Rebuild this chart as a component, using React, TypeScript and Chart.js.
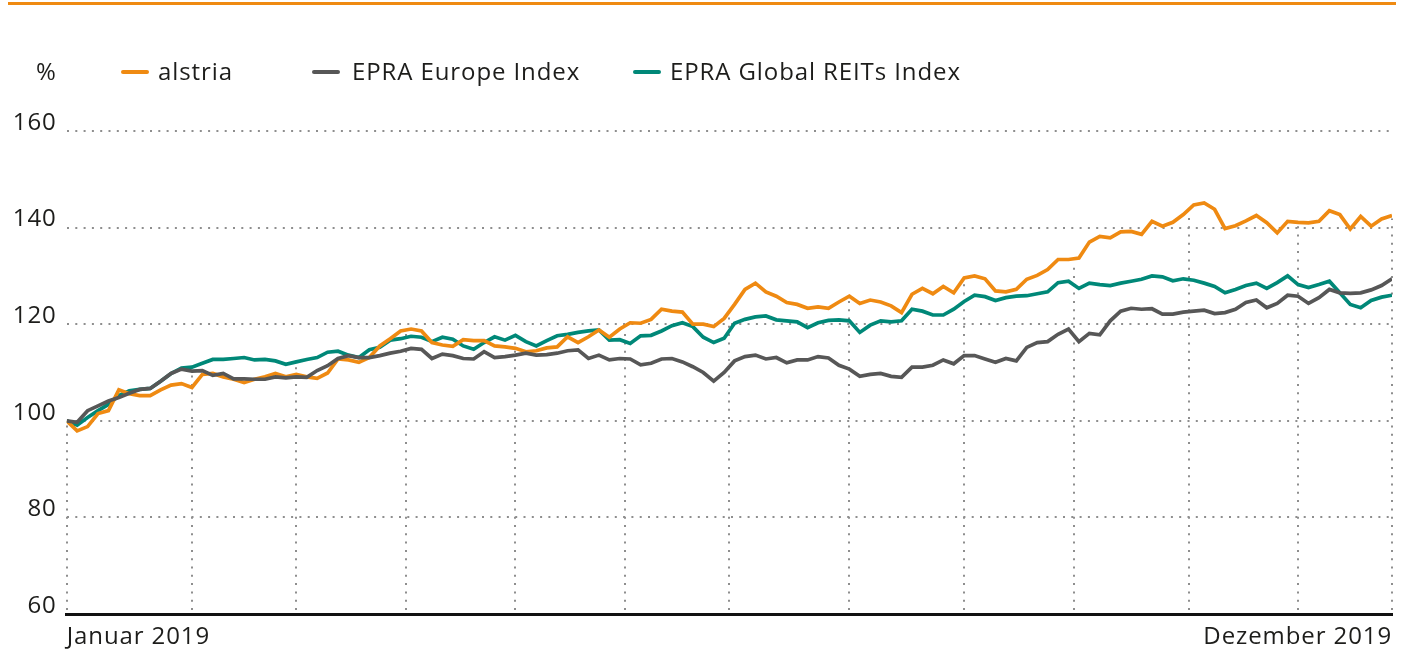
import React, { useEffect, useRef } from "react";
import { Chart, registerables } from "chart.js";

Chart.register(...registerables);

// ---------- data ----------
// trading-day index (every second trading day of 2019)
const tradingDays: number[] = Array.from({ length: 128 }, (_, k) => k * 2);

const alstria: number[] = [
  100.0, 97.9, 98.8, 101.5, 102.1, 106.4, 105.6, 105.2, 105.2, 106.4,
  107.4, 107.7, 106.9, 109.6, 109.8, 109.1, 108.6, 107.9, 108.6, 109.1,
  109.8, 109.1, 109.6, 109.1, 108.8, 109.9, 112.8, 112.6, 112.1, 113.1,
  115.5, 117.0, 118.6, 119.0, 118.6, 116.2, 115.7, 115.4, 116.8, 116.6,
  116.6, 115.5, 115.3, 115.0, 114.3, 114.5, 115.1, 115.3, 117.4, 116.2,
  117.4, 118.8, 117.3, 119.0, 120.3, 120.2, 121.0, 123.1, 122.7, 122.5,
  120.0, 120.0, 119.5, 121.2, 124.1, 127.2, 128.5, 126.7, 125.8, 124.5,
  124.1, 123.3, 123.6, 123.3, 124.6, 125.8, 124.3, 125.0, 124.6, 123.8,
  122.4, 126.2, 127.4, 126.3, 127.8, 126.5, 129.6, 130.0, 129.4, 126.9,
  126.7, 127.2, 129.3, 130.1, 131.3, 133.4, 133.4, 133.7, 137.0, 138.2,
  137.9, 139.1, 139.2, 138.6, 141.3, 140.3, 141.1, 142.7, 144.7, 145.1,
  143.8, 139.8, 140.4, 141.4, 142.5, 141.0, 138.9, 141.3, 141.1, 141.0,
  141.3, 143.5, 142.7, 139.7, 142.3, 140.3, 141.8, 142.5,
];

const epraEurope: number[] = [
  100.0, 99.7, 102.1, 103.1, 104.1, 104.8, 105.7, 106.5, 106.7, 108.2,
  109.8, 110.7, 110.3, 110.4, 109.4, 109.8, 108.7, 108.7, 108.6, 108.6,
  109.1, 108.9, 109.1, 109.0, 110.4, 111.4, 112.9, 113.5, 113.1, 113.1,
  113.5, 114.0, 114.4, 115.0, 114.8, 112.9, 113.8, 113.5, 112.9, 112.8,
  114.3, 113.1, 113.3, 113.6, 114.0, 113.6, 113.7, 114.0, 114.5, 114.7,
  112.9, 113.6, 112.6, 112.9, 112.8, 111.6, 111.9, 112.8, 112.9, 112.2,
  111.2, 110.0, 108.2, 110.0, 112.4, 113.3, 113.6, 112.8, 113.1, 112.0,
  112.6, 112.6, 113.3, 113.0, 111.5, 110.7, 109.2, 109.6, 109.8, 109.2,
  109.0, 111.1, 111.1, 111.5, 112.6, 111.8, 113.5, 113.5, 112.8, 112.1,
  112.9, 112.4, 115.2, 116.2, 116.4, 117.9, 119.0, 116.4, 118.1, 117.8,
  120.7, 122.7, 123.3, 123.1, 123.2, 122.1, 122.1, 122.5, 122.7, 122.9,
  122.2, 122.4, 123.1, 124.5, 125.0, 123.4, 124.3, 126.0, 125.8, 124.3,
  125.5, 127.2, 126.5, 126.4, 126.5, 127.1, 128.0, 129.4,
];

const epraGlobal: number[] = [
  100.0, 99.1, 100.7, 102.1, 103.4, 105.2, 106.2, 106.5, 106.7, 108.2,
  109.8, 110.9, 111.1, 111.9, 112.7, 112.7, 112.9, 113.1, 112.6, 112.7,
  112.4, 111.7, 112.2, 112.7, 113.1, 114.2, 114.4, 113.6, 113.1, 114.7,
  115.2, 116.7, 117.0, 117.5, 117.3, 116.4, 117.3, 116.9, 115.5, 114.8,
  116.2, 117.4, 116.7, 117.7, 116.4, 115.5, 116.6, 117.6, 117.9, 118.3,
  118.6, 118.8, 116.7, 116.8, 116.0, 117.6, 117.7, 118.6, 119.7, 120.3,
  119.5, 117.3, 116.2, 117.1, 120.2, 121.0, 121.5, 121.7, 120.9, 120.7,
  120.5, 119.3, 120.3, 120.8, 120.9, 120.7, 118.3, 119.8, 120.7, 120.5,
  120.7, 123.1, 122.7, 121.9, 121.9, 123.1, 124.7, 126.0, 125.7, 124.9,
  125.5, 125.8, 125.9, 126.3, 126.7, 128.6, 128.9, 127.4, 128.5, 128.2,
  128.0, 128.5, 128.9, 129.3, 130.0, 129.8, 129.0, 129.4, 129.1, 128.5,
  127.8, 126.5, 127.2, 128.0, 128.5, 127.4, 128.6, 130.0, 128.2, 127.6,
  128.2, 128.9, 126.5, 124.1, 123.4, 124.9, 125.6, 126.0,
];

const seriesNames: string[] = ["alstria", "EPRA Europe Index", "EPRA Global REITs Index"];
// first trading day of each month (plus last day of the year)
const monthStarts: number[] = [0, 24, 44, 65, 86, 107, 127, 150, 172, 193, 215, 236, 254];
const xTickValues: number[] = [0, 254];
const xTickLabels: string[] = ["Januar 2019", "Dezember 2019"];
const yTicks: number[] = [60, 80, 100, 120, 140, 160];
const yUnit = "%";

// ---------- styles ----------
const ORANGE = "#ef8a12";
const GRAY = "#575757";
const TEAL = "#008878";
const GRID = "#8e8e8e";
const TEXT = "#1d1d1b";
const FONT = '"Open Sans", "Noto Sans", sans-serif';
const FONT_SIZE = 24;
const SPACING = 0.9;

const seriesValues = [alstria, epraEurope, epraGlobal];
const seriesColors = [ORANGE, GRAY, TEAL];

function valueAt(series: number[], day: number): number {
  const k = day / 2;
  const lo = Math.floor(k);
  const hi = Math.min(Math.ceil(k), series.length - 1);
  const t = k - lo;
  return series[lo] * (1 - t) + series[hi] * t;
}

const letterSpacingPlugin = {
  id: "letterSpacing",
  beforeDraw(chart: any) {
    try {
      chart.ctx.letterSpacing = SPACING + "px";
    } catch (e) {}
  },
};

const monthGridPlugin = {
  id: "monthGrid",
  beforeDatasetsDraw(chart: any) {
    const { ctx, chartArea, scales } = chart;
    const xs = scales.x;
    const ys = scales.y;
    ctx.save();
    ctx.strokeStyle = GRID;
    ctx.lineWidth = 2;
    ctx.setLineDash([2, 6.3]);
    monthStarts.forEach((m) => {
      const top = Math.max(...seriesValues.map((s) => valueAt(s, m)));
      const x = Math.round(xs.getPixelForValue(m));
      const yTop = ys.getPixelForValue(top) + 3;
      ctx.beginPath();
      ctx.moveTo(x, chartArea.bottom - 4);
      ctx.lineTo(x, yTop);
      ctx.stroke();
    });
    ctx.restore();
  },
};

export default function App() {
  const ref = useRef<HTMLCanvasElement>(null);

  useEffect(() => {
    const canvas = ref.current;
    if (!canvas) return;
    const datasets = seriesValues.map((vals, i) => ({
      label: seriesNames[i],
      data: tradingDays.map((d, k) => ({ x: d, y: vals[k] })),
      borderColor: seriesColors[i],
      backgroundColor: seriesColors[i],
      borderWidth: 3.7,
      pointRadius: 0,
      tension: 0,
      fill: false,
      order: i === 1 ? 0 : i === 0 ? 1 : 2,
    }));
    const chart = new Chart(canvas, {
      type: "line",
      data: { datasets },
      plugins: [letterSpacingPlugin, monthGridPlugin],
      options: {
        animation: false,
        responsive: false,
        devicePixelRatio: 1,
        events: [],
        layout: { padding: { top: 131, left: 8, right: 24, bottom: 0 } },
        plugins: {
          legend: { display: false },
          tooltip: { enabled: false },
          title: { display: false },
        },
        scales: {
          x: {
            type: "linear",
            min: xTickValues[0],
            max: xTickValues[xTickValues.length - 1],
            afterBuildTicks: (scale: any) => {
              scale.ticks = xTickValues.map((v) => ({ value: v }));
            },
            afterFit: (scale: any) => {
              scale.height = 42;
            },
            ticks: {
              autoSkip: false,
              maxRotation: 0,
              align: "inner",
              padding: 9,
              color: TEXT,
              font: { family: FONT, size: FONT_SIZE },
              callback: (v: any) => xTickLabels[xTickValues.indexOf(Number(v))] ?? "",
            },
            grid: { display: false, drawTicks: false },
            border: { display: true, color: "#111111", width: 3 },
          },
          y: {
            min: yTicks[0],
            max: yTicks[yTicks.length - 1],
            afterBuildTicks: (scale: any) => {
              scale.ticks = yTicks.map((v) => ({ value: v }));
            },
            afterFit: (scale: any) => {
              scale.width = 58.7;
            },
            ticks: {
              padding: 10,
              labelOffset: -8,
              color: TEXT,
              font: { family: FONT, size: FONT_SIZE },
            },
            grid: { color: GRID, lineWidth: 2, drawTicks: false },
            border: { display: false, dash: [2, 6.3] },
          },
        },
      } as any,
    });
    return () => chart.destroy();
  }, []);

  const textStyle: React.CSSProperties = {
    position: "absolute",
    top: 57,
    height: 28,
    lineHeight: "28px",
    fontSize: FONT_SIZE,
    letterSpacing: SPACING,
    whiteSpace: "nowrap",
    color: TEXT,
  };
  const legendDash = (left: number, color: string): React.CSSProperties => ({
    position: "absolute",
    left,
    top: 70,
    width: 28,
    height: 4,
    borderRadius: 2,
    background: color,
  });
  const dashLefts = [121, 312, 633];
  const textLefts = [158, 352, 670];

  return (
    <div
      style={{
        position: "absolute",
        left: 0,
        top: 0,
        width: 1416,
        height: 656,
        background: "#ffffff",
        overflow: "hidden",
        fontFamily: FONT,
      }}
    >
      <div style={{ position: "absolute", left: 8, top: 2, width: 1388, height: 3, background: ORANGE }} />
      <canvas ref={ref} width={1416} height={656} style={{ position: "absolute", left: 0, top: 0 }} />
      <div style={{ ...textStyle, left: 36 }}>{yUnit}</div>
      {seriesNames.map((name, i) => (
        <React.Fragment key={name}>
          <div style={legendDash(dashLefts[i], seriesColors[i])} />
          <div style={{ ...textStyle, left: textLefts[i] }}>{name}</div>
        </React.Fragment>
      ))}
    </div>
  );
}
